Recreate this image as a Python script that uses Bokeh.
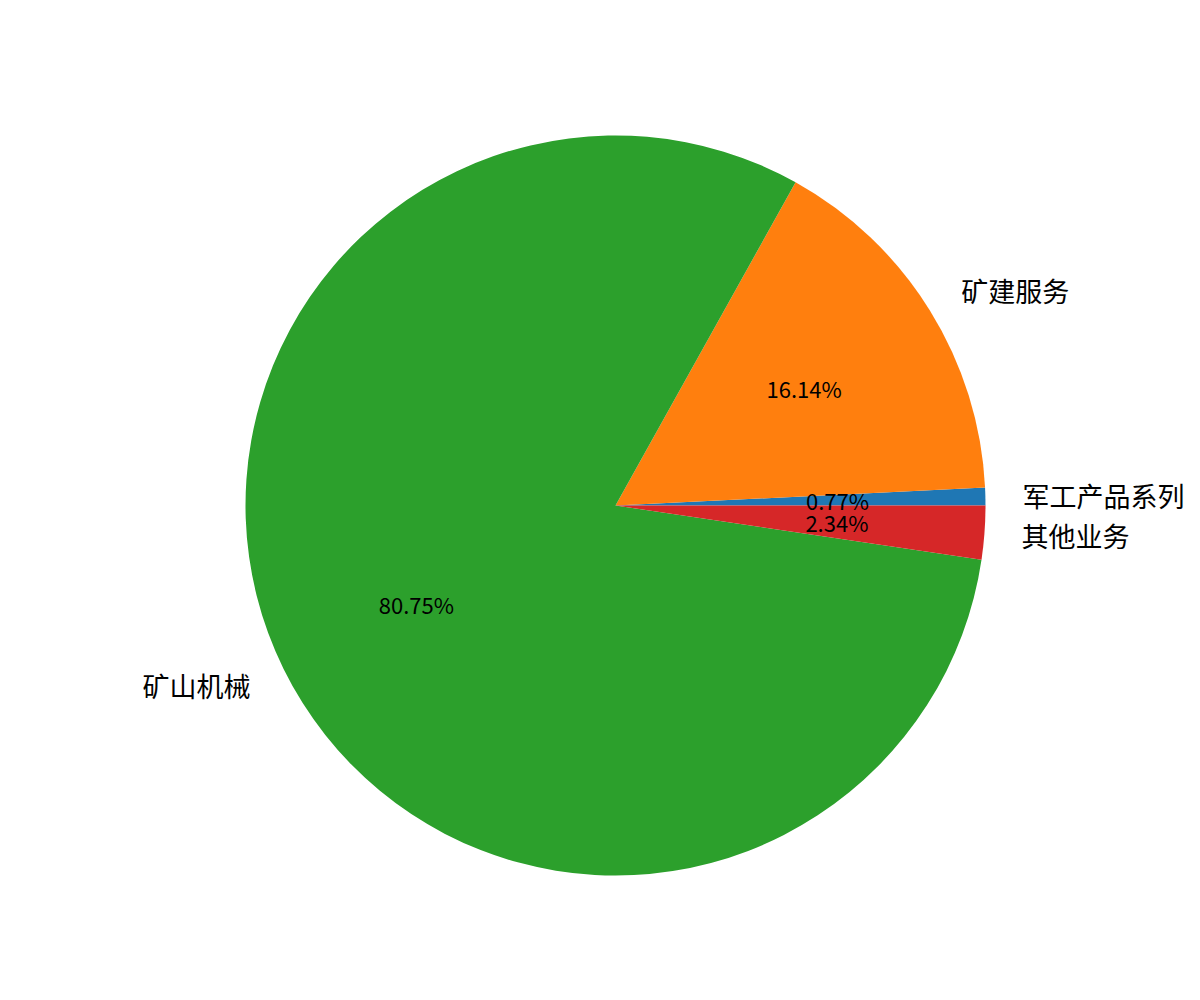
import math
from bokeh.plotting import figure
from bokeh.models import ColumnDataSource
from bokeh.core.properties import value
from bokeh.embed import file_html
from bokeh.resources import INLINE

categories = ["军工产品系列", "矿建服务", "矿山机械", "其他业务"]
shares = [0.77, 16.14, 80.75, 2.34]
pct_labels = ["0.77%", "16.14%", "80.75%", "2.34%"]
colors = ["#1f77b4", "#ff7f0e", "#2ca02c", "#d62728"]

W, H = 1184, 984
cx, cy, R = 615, 1000 - 505, 370

total = sum(shares)
starts, ends, mids = [], [], []
acc = 0.0
for s in shares:
    a0 = acc / total * 2 * math.pi
    acc += s
    a1 = acc / total * 2 * math.pi
    starts.append(a0)
    ends.append(a1)
    mids.append((a0 + a1) / 2)

src = ColumnDataSource(dict(start=starts, end=ends, color=colors))

p = figure(width=W, height=H, output_backend="svg", toolbar_location=None,
           x_range=(0, W), y_range=(1000 - H, 1000),
           min_border=0)
p.axis.visible = False
p.grid.visible = False
p.outline_line_color = None
p.background_fill_color = "white"
p.border_fill_color = "white"

p.wedge(x=cx, y=cy, radius=R, start_angle="start", end_angle="end",
        fill_color="color", line_color=None, source=src)

lx = [cx + 1.1 * R * math.cos(m) for m in mids]
ly = [cy + 1.1 * R * math.sin(m) for m in mids]
align = ["left" if math.cos(m) > 0 else "right" for m in mids]
lab_src = ColumnDataSource(dict(x=lx, y=ly, t=categories, a=align))
p.text(x="x", y="y", text="t", text_align="a", text_baseline="middle",
       text_font=value("Noto Sans CJK SC"), text_font_size="27px",
       text_color="black", source=lab_src)

px = [cx + 0.6 * R * math.cos(m) for m in mids]
py = [cy + 0.6 * R * math.sin(m) for m in mids]
pct_src = ColumnDataSource(dict(x=px, y=py, t=pct_labels))
p.text(x="x", y="y", text="t", text_align="center", text_baseline="middle",
       text_font=value("Noto Sans CJK SC"), text_font_size="22px",
       text_color="black", source=pct_src)

open("out.html", "w").write(file_html(p, INLINE))
